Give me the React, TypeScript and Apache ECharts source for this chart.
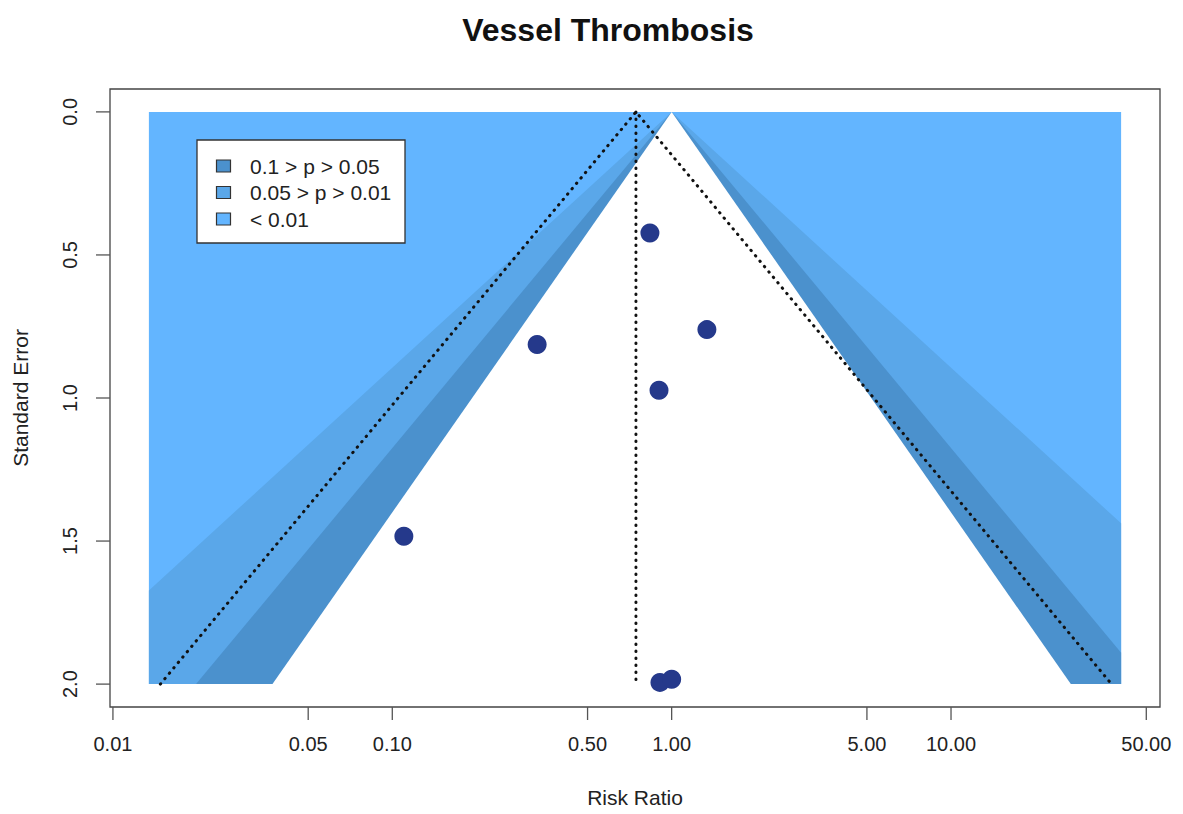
import React, { useEffect, useRef } from "react";
import * as echarts from "echarts";

// ---- data ----
const TITLE = "Vessel Thrombosis";
const X_NAME = "Risk Ratio";
const Y_NAME = "Standard Error";
const RR_TICKS = [0.01, 0.05, 0.1, 0.5, 1, 5, 10, 50];
const RR_TICK_LABELS = ["0.01", "0.05", "0.10", "0.50", "1.00", "5.00", "10.00", "50.00"];
const SE_TICKS = [0, 0.5, 1, 1.5, 2];
const STUDY_RR = [0.836, 1.337, 0.33, 0.901, 0.11, 0.908, 1.0];
const STUDY_SE = [0.423, 0.761, 0.813, 0.973, 1.483, 1.994, 1.983];
const POOLED_RR = 0.745;
const CONTOUR_Z = [1.645, 1.96, 2.576]; // p = 0.10, 0.05, 0.01
const LEGEND_LABELS = ["0.1 > p > 0.05", "0.05 > p > 0.01", "< 0.01"];
const RR_LIMITS = [0.01345, 40.63];
const SE_LIMITS = [0, 2];

// ---- styles ----
const BAND_COLORS = ["#4B91CD", "#5AA7E9", "#63B5FF"];
const POINT_COLOR = "#25398B";
const FONT = "'Liberation Sans', Arial, Helvetica, sans-serif";
const AXIS_COLOR = "#555";

const LN10 = Math.log(10);
const lg = (v: number) => Math.log10(v);

const xLo = lg(RR_LIMITS[0]);
const xHi = lg(RR_LIMITS[1]);
const xPad = (xHi - xLo) * 0.04;
const yPad = (SE_LIMITS[1] - SE_LIMITS[0]) * 0.04;
const X_MIN = xLo - xPad;
const X_MAX = xHi + xPad;
const Y_MIN = SE_LIMITS[0] - yPad;
const Y_MAX = SE_LIMITS[1] + yPad;

function clipX(poly: number[][], bound: number, keepGreater: boolean) {
  const out: number[][] = [];
  const inside = (p: number[]) => (keepGreater ? p[0] >= bound : p[0] <= bound);
  for (let i = 0; i < poly.length; i++) {
    const a = poly[i];
    const b = poly[(i + 1) % poly.length];
    const ia = inside(a);
    const ib = inside(b);
    if (ia) out.push(a);
    if (ia !== ib) {
      const t = (bound - a[0]) / (b[0] - a[0]);
      out.push([bound, a[1] + t * (b[1] - a[1])]);
    }
  }
  return out;
}

function funnel(z: number, center: number) {
  const se = SE_LIMITS[1];
  const tri = [
    [center, 0],
    [center + (z * se) / LN10, se],
    [center - (z * se) / LN10, se],
  ];
  return clipX(clipX(tri, xLo, true), xHi, false);
}

const bandPolys = [
  [
    [xLo, SE_LIMITS[0]],
    [xHi, SE_LIMITS[0]],
    [xHi, SE_LIMITS[1]],
    [xLo, SE_LIMITS[1]],
  ],
  funnel(CONTOUR_Z[2], 0),
  funnel(CONTOUR_Z[1], 0),
  funnel(CONTOUR_Z[0], 0),
];
const bandFills = [BAND_COLORS[2], BAND_COLORS[1], BAND_COLORS[0], "#ffffff"];

export default function App() {
  const ref = useRef<HTMLDivElement>(null);
  useEffect(() => {
    if (!ref.current) return;
    const chart = echarts.init(ref.current, null, { renderer: "svg" });
    const pooled = lg(POOLED_RR);
    const seMax = SE_LIMITS[1];
    const z95 = CONTOUR_Z[1];
    const refLines = [
      [(Math.log(POOLED_RR) - z95 * seMax) / LN10, seMax],
      [pooled, 0],
      [(Math.log(POOLED_RR) + z95 * seMax) / LN10, seMax],
    ];
    const dotted = {
      type: [0.5, 6.5] as any,
      width: 3,
      color: "#111",
      cap: "round",
    };

    const legendEls: any[] = [
      {
        type: "rect",
        z: 100,
        shape: { x: 197, y: 140, width: 208, height: 103 },
        style: { fill: "#fff", stroke: "#333", lineWidth: 1.3 },
      },
    ];
    LEGEND_LABELS.forEach((lab, i) => {
      const cy = 166 + i * 26.5;
      legendEls.push({
        type: "rect",
        z: 101,
        shape: { x: 216.5, y: cy - 6, width: 14, height: 12 },
        style: { fill: BAND_COLORS[i], stroke: "#333", lineWidth: 1.2 },
      });
      legendEls.push({
        type: "text",
        z: 101,
        x: 250,
        y: cy,
        style: {
          text: lab,
          fontSize: 21,
          fontFamily: FONT,
          fill: "#222",
          verticalAlign: "middle",
          align: "left",
        },
      });
    });

    const option: any = {
      animation: false,
      textStyle: { fontFamily: FONT },
      title: {
        text: TITLE,
        left: 603,
        top: 9,
        textAlign: "center",
        textStyle: { fontSize: 32, fontWeight: "bold", color: "#111", fontFamily: FONT },
      },
      grid: {
        left: 110,
        right: 23,
        top: 89,
        bottom: 107,
        show: true,
        borderColor: "#444",
        borderWidth: 1.3,
        backgroundColor: "transparent",
      },
      xAxis: {
        type: "value",
        min: X_MIN,
        max: X_MAX,
        name: X_NAME,
        nameLocation: "middle",
        nameGap: 80,
        nameTextStyle: { fontSize: 21, color: "#222", fontFamily: FONT },
        axisLine: { show: false },
        splitLine: { show: false },
        axisTick: { show: false },
        axisLabel: {
          customValues: RR_TICKS.map(lg),
          margin: 27,
          fontSize: 20,
          color: "#222",
          fontFamily: FONT,
          formatter: (v: number) => {
            let best = 0;
            RR_TICKS.forEach((t, i) => {
              if (Math.abs(lg(t) - v) < Math.abs(lg(RR_TICKS[best]) - v)) best = i;
            });
            return RR_TICK_LABELS[best];
          },
        },
      },
      yAxis: {
        type: "value",
        inverse: true,
        min: Y_MIN,
        max: Y_MAX,
        name: Y_NAME,
        nameLocation: "middle",
        nameGap: 79,
        nameRotate: 90,
        nameTextStyle: { fontSize: 21, color: "#222", fontFamily: FONT },
        axisLine: { show: false },
        splitLine: { show: false },
        axisTick: { show: false },
        axisLabel: {
          customValues: SE_TICKS,
          rotate: 90,
          margin: 30,
          fontSize: 20,
          color: "#222",
          fontFamily: FONT,
          formatter: (v: number) => v.toFixed(1),
        },
      },
      series: [
        ...bandPolys.map((poly, i) => ({
          type: "custom",
          silent: true,
          z: 1 + i * 0.01,
          data: [[0, 0]],
          renderItem: (_p: any, api: any) => ({
            type: "polygon",
            shape: { points: poly.map((pt) => api.coord(pt)) },
            style: { fill: bandFills[i], stroke: null },
          }),
        })),
        {
          // x-axis tick marks
          type: "custom",
          silent: true,
          clip: false,
          z: 4,
          data: RR_TICKS.map((t) => [lg(t), Y_MAX]),
          renderItem: (_p: any, api: any) => {
            const p = api.coord([api.value(0), api.value(1)]);
            return {
              type: "line",
              shape: { x1: p[0], y1: p[1], x2: p[0], y2: p[1] + 13 },
              style: { stroke: AXIS_COLOR, lineWidth: 1.3 },
            };
          },
        },
        {
          // y-axis tick marks
          type: "custom",
          silent: true,
          clip: false,
          z: 4,
          data: SE_TICKS.map((s) => [X_MIN, s]),
          renderItem: (_p: any, api: any) => {
            const p = api.coord([api.value(0), api.value(1)]);
            return {
              type: "line",
              shape: { x1: p[0], y1: p[1], x2: p[0] - 14, y2: p[1] },
              style: { stroke: AXIS_COLOR, lineWidth: 1.3 },
            };
          },
        },
        {
          type: "line",
          silent: true,
          z: 3,
          symbol: "none",
          data: refLines,
          lineStyle: dotted,
        },
        {
          type: "line",
          silent: true,
          z: 3,
          symbol: "none",
          data: [
            [pooled, 0],
            [pooled, seMax],
          ],
          lineStyle: dotted,
        },
        {
          type: "scatter",
          z: 5,
          symbolSize: 19,
          itemStyle: { color: POINT_COLOR, opacity: 1 },
          data: STUDY_RR.map((rr, i) => [lg(rr), STUDY_SE[i]]),
        },
      ],
      graphic: legendEls,
    };
    chart.setOption(option);
    return () => chart.dispose();
  }, []);
  return (
    <div
      ref={ref}
      style={{ position: "absolute", left: 0, top: 0, width: 1183, height: 814, background: "#fff" }}
    />
  );
}
